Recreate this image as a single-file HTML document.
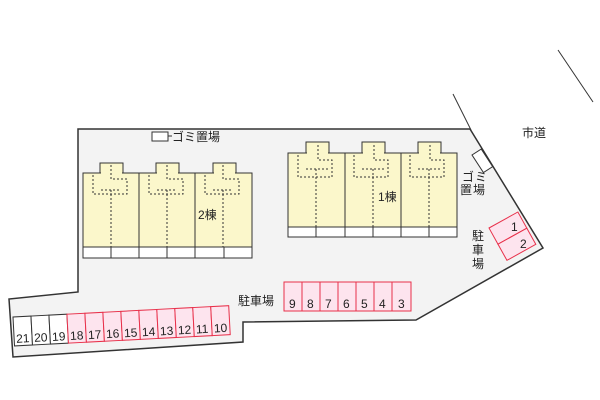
<!DOCTYPE html>
<html><head><meta charset="utf-8"><style>
body{margin:0;background:#fff}
svg{display:block}
text{font-family:"Liberation Sans","Noto Sans CJK JP",sans-serif;font-size:12px;fill:#222}
</style></head><body>
<svg width="600" height="400" viewBox="0 0 600 400">
<line x1="453" y1="94" x2="471" y2="130" stroke="#333" stroke-width="1"/>
<line x1="558" y1="50" x2="593" y2="102" stroke="#333" stroke-width="1"/>
<text x="522" y="137">市道</text>
<polygon points="78,129 470,129 543,248 416,320 243,322 243,342 13,357 9,299 78,292" fill="#f3f3f3" stroke="#333" stroke-width="1.5"/>
<!-- gomi top -->
<rect x="152" y="132" width="16" height="9" fill="#fff" stroke="#333"/>
<line x1="168" y1="136" x2="172" y2="136" stroke="#333"/>
<text x="172" y="141">ゴミ置場</text>
<!-- gomi right -->
<g transform="translate(472,155) rotate(-33)"><rect x="0" y="0" width="11" height="21" fill="#fff" stroke="#333"/></g>
<text x="462" y="181">ゴ</text><text x="475" y="181">ミ</text>
<text x="460" y="194">置</text><text x="473" y="194">場</text>
<!-- building 2 -->
<g fill="#fbf7cb" stroke="#333">
<rect x="83" y="173" width="56" height="74"/><rect x="139" y="173" width="56" height="74"/><rect x="195" y="173" width="57" height="74"/>
<rect x="100" y="163" width="23" height="10"/><rect x="156" y="163" width="23" height="10"/><rect x="213" y="163" width="23" height="10"/>
</g>
<g fill="#fbf7cb"><rect x="101" y="172" width="21" height="2"/><rect x="157" y="172" width="21" height="2"/><rect x="214" y="172" width="21" height="2"/></g>
<g fill="#fff" stroke="#333"><rect x="83" y="247" width="28" height="11"/><rect x="111" y="247" width="28" height="11"/><rect x="139" y="247" width="28" height="11"/><rect x="167" y="247" width="28" height="11"/><rect x="195" y="247" width="29" height="11"/><rect x="224" y="247" width="28" height="11"/></g>
<g fill="none" stroke="#333" stroke-dasharray="2,2">
<path d="M93,175 V194 H127 V179 H111 V164 M101,190 H121 M111,190 V247"/>
<path d="M149,175 V194 H183 V179 H167 V164 M157,190 H177 M167,190 V247"/>
<path d="M205,175 V194 H239 V179 H223 V164 M213,190 H233 M223,190 V247"/>
</g>
<text x="198" y="219">2棟</text>
<!-- building 1 -->
<g fill="#fbf7cb" stroke="#333">
<rect x="288" y="153" width="57" height="74"/><rect x="345" y="153" width="56" height="74"/><rect x="401" y="153" width="56" height="74"/>
<rect x="306" y="142" width="23" height="11"/><rect x="362" y="142" width="23" height="11"/><rect x="418" y="142" width="23" height="11"/>
</g>
<g fill="#fbf7cb"><rect x="307" y="152" width="21" height="2"/><rect x="363" y="152" width="21" height="2"/><rect x="419" y="152" width="21" height="2"/></g>
<g fill="#fff" stroke="#333"><rect x="288" y="227" width="28" height="10"/><rect x="316" y="227" width="29" height="10"/><rect x="345" y="227" width="28" height="10"/><rect x="373" y="227" width="28" height="10"/><rect x="401" y="227" width="28" height="10"/><rect x="429" y="227" width="28" height="10"/></g>
<g fill="none" stroke="#333" stroke-dasharray="2,2">
<path d="M298,155 V177 H332 V160 H318 V143 M306,169 H328 M316,169 V227"/>
<path d="M354,155 V177 H388 V160 H374 V143 M362,169 H384 M373,169 V227"/>
<path d="M410,155 V177 H444 V160 H430 V143 M418,169 H440 M429,169 V227"/>
</g>
<text x="378" y="201">1棟</text>
<!-- parking 1,2 -->
<g transform="translate(489,228) rotate(-29)" fill="#fde4ee" stroke="#e8304a">
<rect x="0" y="0" width="33" height="18.5"/><rect x="0" y="18.5" width="33" height="18.5"/>
</g>
<text x="511" y="231">1</text><text x="520" y="248">2</text>
<text x="472" y="240">駐</text><text x="472" y="254">車</text><text x="472" y="268">場</text>
<!-- parking 3-9 -->
<g fill="#fde4ee" stroke="#e8304a">
<rect x="284" y="282" width="18" height="29"/><rect x="302" y="282" width="18" height="29"/><rect x="320" y="282" width="18" height="29"/><rect x="338" y="282" width="18" height="29"/><rect x="356" y="282" width="18" height="29"/><rect x="374" y="282" width="18" height="29"/><rect x="392" y="282" width="19" height="29"/>
</g>
<g font-size="12"><text x="289" y="308">9</text><text x="307" y="308">8</text><text x="325" y="308">7</text><text x="343" y="308">6</text><text x="361" y="308">5</text><text x="379" y="308">4</text><text x="398" y="308">3</text></g>
<text x="238" y="305">駐車場</text>
<!-- parking 10-21 slanted -->
<g transform="translate(13,317) rotate(-3)">
<g fill="#fff" stroke="#333"><rect x="0" y="0" width="18" height="29"/><rect x="18" y="0" width="18" height="29"/><rect x="36" y="0" width="18" height="29"/></g>
<g fill="#fde4ee" stroke="#e8304a"><rect x="54" y="0" width="18" height="29"/><rect x="72" y="0" width="18" height="29"/><rect x="90" y="0" width="18" height="29"/><rect x="108" y="0" width="18" height="29"/><rect x="126" y="0" width="18" height="29"/><rect x="144" y="0" width="18" height="29"/><rect x="162" y="0" width="18" height="29"/><rect x="180" y="0" width="18" height="29"/><rect x="198" y="0" width="18" height="29"/></g>
<text x="2" y="26">21</text><text x="20" y="26">20</text><text x="38" y="26">19</text><text x="56" y="26">18</text><text x="74" y="26">17</text><text x="92" y="26">16</text><text x="110" y="26">15</text><text x="128" y="26">14</text><text x="146" y="26">13</text><text x="164" y="26">12</text><text x="182" y="26">11</text><text x="200" y="26">10</text>
</g>
</svg>
</body></html>
